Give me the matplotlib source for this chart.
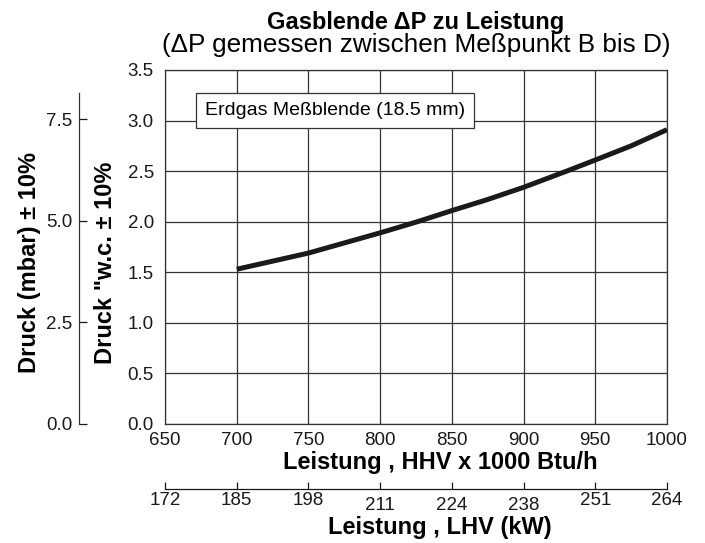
import numpy as np
import matplotlib
matplotlib.use("Agg")
import matplotlib.pyplot as plt

plt.rcParams['font.family'] = ['Liberation Sans', 'DejaVu Sans']

# Leistung HHV (x 1000 Btu/h) and Druck in inch water column
hhv = [700, 725, 750, 775, 800, 826, 850, 875, 900, 930, 950, 975, 1000]
druck_inwc = [1.53, 1.61, 1.69, 1.79, 1.89, 2.00, 2.11, 2.22, 2.34, 2.50, 2.61, 2.75, 2.91]

x_ticks = [650, 700, 750, 800, 850, 900, 950, 1000]
y_ticks = [0.0, 0.5, 1.0, 1.5, 2.0, 2.5, 3.0, 3.5]
lhv_labels = ["172", "185", "198", "211", "224", "238", "251", "264"]
lhv_lowered = ["211", "224", "238"]
mbar_ticks = [0.0, 2.5, 5.0, 7.5]
mbar_per_inwc = 2.49
mbar_top = 8.15

fig = plt.figure(figsize=(7.05, 5.43), dpi=100)
ax = fig.add_axes([165 / 705, 1 - 424 / 543, 502 / 705, 354 / 543])

ax.plot(hhv, druck_inwc, color='#1a1a1a', lw=3.6, solid_capstyle='butt', zorder=3)

ax.set_xlim(650, 1000)
ax.set_ylim(0, 3.5)
ax.set_xticks(x_ticks)
ax.set_yticks(y_ticks)
ax.set_yticklabels(["%.1f" % v for v in y_ticks])
ax.grid(True, color='#333333', lw=0.9)
for s in ax.spines.values():
    s.set_color('#333333')
    s.set_linewidth(0.9)
ax.tick_params(axis='both', length=0, labelsize=13.5, colors='#1a1a1a')
ax.tick_params(axis='y', pad=8)
ax.tick_params(axis='x', pad=6)

ax.set_xlabel("Leistung , HHV x 1000 Btu/h", fontsize=17, fontweight='bold', va='center')
ax.xaxis.set_label_coords(0.548, -0.110)
ax.set_ylabel('Druck "w.c. ± 10%', fontsize=17, fontweight='bold', va='center')
ax.yaxis.set_label_coords(-0.118, 0.455)

ax.text(0.08, 0.886, "Erdgas Meßblende (18.5 mm)", transform=ax.transAxes,
        fontsize=14, va='center', ha='left', zorder=4,
        bbox=dict(boxstyle='square,pad=0.45', fc='white', ec='#333333', lw=0.9))

# title
fig.text(416 / 705, 1 - 22 / 543, "Gasblende ΔP zu Leistung", ha='center', va='center',
         fontsize=17, fontweight='bold')
fig.text(416 / 705, 1 - 45 / 543, "(ΔP gemessen zwischen Meßpunkt B bis D)", ha='center',
         va='center', fontsize=18.8)

# mbar axis on the left
sec_y = ax.secondary_yaxis(-0.171, functions=(lambda v: v * mbar_per_inwc,
                                               lambda v: v / mbar_per_inwc))
sec_y.set_yticks(mbar_ticks)
sec_y.set_yticklabels(["%.1f" % v for v in mbar_ticks])
sec_y.tick_params(direction='in', length=6, width=0.9, labelsize=13.5, pad=5,
                  colors='#1a1a1a')
sec_y.spines['left'].set_bounds(0, mbar_top)
sec_y.spines['left'].set_color('#333333')
sec_y.spines['left'].set_linewidth(0.9)
ax.text(-0.269, 0.455, "Druck (mbar) ± 10%", transform=ax.transAxes, rotation=90,
        ha='center', va='center', fontsize=17, fontweight='bold')

# LHV kW axis below
sec_x = ax.secondary_xaxis(-0.184)
sec_x.set_xticks(x_ticks)
sec_x.set_xticklabels(lhv_labels)
sec_x.tick_params(direction='in', length=5, width=0.9, labelsize=13.5, pad=2,
                  colors='#1a1a1a')
sec_x.spines['bottom'].set_color('#1a1a1a')
sec_x.spines['bottom'].set_linewidth(0.9)
for tick, lab in zip(sec_x.xaxis.get_major_ticks(), lhv_labels):
    if lab in lhv_lowered:
        tick.set_pad(5.5)
ax.text(0.548, -0.293, "Leistung , LHV (kW)", transform=ax.transAxes,
        ha='center', va='center', fontsize=17, fontweight='bold')

fig.savefig("out.png", dpi=100)
